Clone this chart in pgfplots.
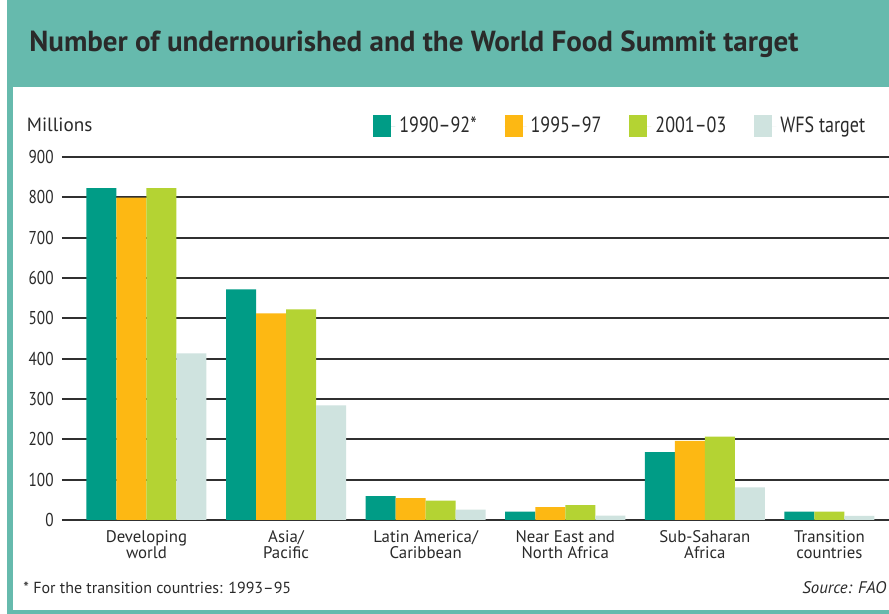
\documentclass[border=0pt]{standalone}
\usepackage{pgfplots}
\pgfplotsset{compat=1.18}
\usepackage{fontspec}
\setmainfont{PT Sans}
\newfontfamily\narrowfont[FakeStretch=0.82,Ligatures=TeX]{PT Sans}
\definecolor{hdr}{HTML}{66BAAD}
\definecolor{cA}{HTML}{009C86}
\definecolor{cB}{HTML}{FDB813}
\definecolor{cC}{HTML}{B4D333}
\definecolor{cD}{HTML}{CFE3DF}
\definecolor{gridc}{HTML}{303030}
\definecolor{txt}{HTML}{2A2A2A}
\begin{document}
\begin{tikzpicture}
\begin{scope}[x=0.5pt,y=-0.5pt,shift={(-62,-520)}]
\fill[hdr] (7,0) rectangle (889,614);
\fill[white] (12.7,87.5) rectangle (889,610);
\fill[white] (0,0) rectangle (7,614);
\node[anchor=base west,inner sep=0pt,text=txt] at (29,51.7) {\bfseries\fontsize{14.5}{16}\selectfont Number of undernourished and the World Food Summit target};
\node[anchor=base west,inner sep=0pt,text=txt] at (26.5,132) {\fontsize{9.6}{12}\selectfont Millions};
\node[anchor=base west,inner sep=0pt,text=txt] at (23,593.3) {\fontsize{8}{10}\selectfont * For the transition countries: 1993–95};
\node[anchor=base east,inner sep=0pt,text=txt] at (886.7,593.3) {\itshape\fontsize{8.4}{10}\selectfont Source: FAO};
\end{scope}
\begin{axis}[
  at={(0pt,0pt)}, anchor=south west,
  scale only axis, width=413.5pt, height=181.5pt,
  xmin=-0.605, xmax=5.319, ymin=0, ymax=900,
  axis line style={draw=none},
  ytick={0,100,...,900},
  ymajorgrids, grid style={gridc, line width=1pt},
  major tick length=0pt,
  xtick={0,1,2,3,4,4.8925},
  xticklabels={Developing\\world, Asia/\\Pacific, Latin America/\\Caribbean, Near East and\\North Africa, Sub-Saharan\\Africa, Transition\\countries},
  xticklabel style={align=center, font=\fontsize{8.4}{8.2}\selectfont, text=txt, inner sep=0pt, yshift=-5pt},
  yticklabel style={font=\narrowfont\fontsize{9.3}{10}\selectfont, text=txt, inner sep=0pt, xshift=-4pt},
  /pgf/number format/assume math mode=true,
  ybar, bar width=0.215, bar shift=0pt,
  clip=false,
  legend columns=4,
  legend style={at={(0.376,1.0854)}, anchor=west, draw=none, fill=none, inner sep=0pt,
    font=\narrowfont\fontsize{11}{12}\selectfont, text=txt,
    /tikz/every even column/.append style={column sep=12pt}},
  legend image code/.code={\fill[#1] (0pt,-5.5pt) rectangle (9pt,5.5pt); \path (0pt,0pt) -- (11pt,0pt);},
]
\addplot[fill=cA, draw=none] coordinates {(-0.3225,823) (0.6775,572) (1.6775,59) (2.6775,21) (3.6775,168) (4.6775,21)};
\addplot[fill=cB, draw=none] coordinates {(-0.1075,799) (0.8925,512) (1.8925,54) (2.8925,32) (3.8925,196)};
\addplot[fill=cC, draw=none] coordinates {(0.1075,823) (1.1075,522) (2.1075,48) (3.1075,37) (4.1075,207) (4.8925,21)};
\addplot[fill=cD, draw=none] coordinates {(0.3225,413) (1.3225,284) (2.3225,26) (3.3225,11) (4.3225,81) (5.1075,10)};
\legend{1990--92*, 1995--97, 2001--03, WFS target}
\end{axis}
\begin{scope}[x=0.5pt,y=-0.5pt,shift={(-62,-520)}]
\pgfresetboundingbox
\path[use as bounding box] (0,0) rectangle (889,614);
\end{scope}
\end{tikzpicture}
\end{document}
